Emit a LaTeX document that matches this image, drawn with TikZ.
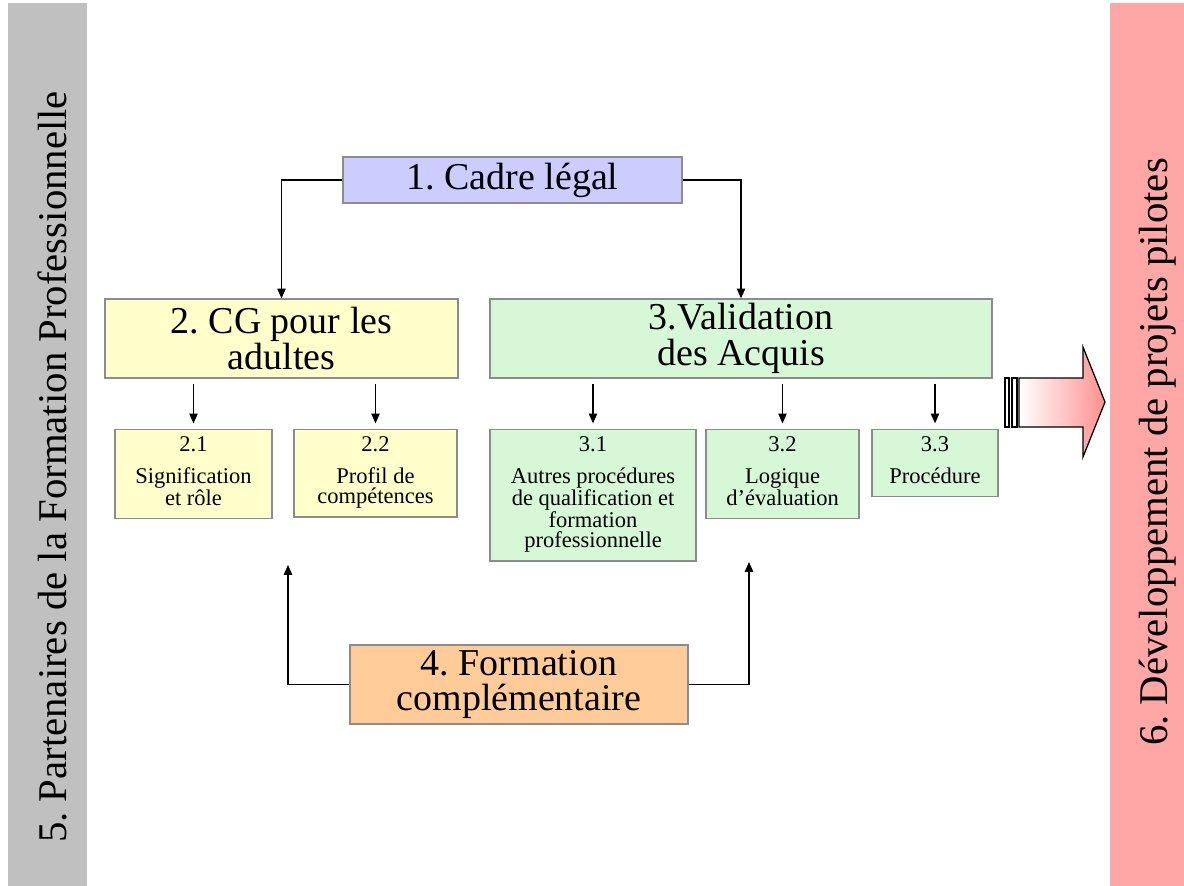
\documentclass[tikz,border=0pt]{standalone}
\usepackage{fontspec}
\setmainfont{Liberation Serif}
\usetikzlibrary{arrows.meta}
\frenchspacing

\definecolor{lavender}{HTML}{CCCCFF}
\definecolor{paleyellow}{HTML}{FFFFCC}
\definecolor{palegreen}{HTML}{D6F8D6}
\definecolor{peach}{HTML}{FFCC99}
\definecolor{bandgray}{HTML}{C0C0C0}
\definecolor{bandpink}{HTML}{FFA6A6}
\definecolor{arrowpink}{HTML}{FF9090}
\definecolor{edgegray}{HTML}{8C8C8C}
\newlength{\unitpx}
\setlength{\unitpx}{0.025cm}

\begin{document}
\begin{tikzpicture}[x=0.025cm, y=-0.025cm,
	bigbox/.style={draw=edgegray, line width=0.9pt, align=center, inner sep=0pt,
		font=\fontsize{27}{25.5}\selectfont},
	smallbox/.style={draw=edgegray, line width=0.9pt, align=center, anchor=north,
		inner xsep=0pt, inner ysep=5.2pt, font=\fontsize{16}{14.4}\selectfont,
		execute at end node=\strut},
	link/.style={line width=0.9pt, -{Triangle[length=7pt,width=6pt]}},
	sidetext/.style={rotate=90, inner sep=0pt, font=\fontsize{29}{34}\selectfont}]
	\useasboundingbox (0,0) rectangle (1184,886);
	
	% side bands
	\fill[bandgray] (8,3) rectangle (87,886);
	\fill[bandpink] (1110,3) rectangle (1184,886);
	\node[sidetext] (partners) at (52,467) {5. Partenaires de la Formation Professionnelle};
	\node[sidetext] (pilots) at (1158,452) {6. Développement de projets pilotes};
	
	% main boxes
	\node[bigbox, fill=lavender, minimum width=339\unitpx, minimum height=46\unitpx] (b1) at (512.5,180) {1. Cadre légal};
	\node[bigbox, fill=paleyellow, minimum width=353\unitpx, minimum height=79\unitpx] (b2) at (281.5,338.5) {2. CG pour les\\adultes};
	\node[bigbox, fill=palegreen, minimum width=502\unitpx, minimum height=79\unitpx] (b3) at (741,338.5) {3.Validation\\des Acquis};
	\node[bigbox, fill=peach, minimum width=338\unitpx, minimum height=79\unitpx] (b4) at (519,684.5) {4. Formation\\complémentaire};
	
	% sub boxes
	\node[smallbox, fill=paleyellow, minimum width=157\unitpx] (b21) at (193.5,429) {2.1\\[8pt]Signification\\et rôle};
	\node[smallbox, fill=paleyellow, minimum width=163\unitpx] (b22) at (375.5,429) {2.2\\[8pt]Profil de\\compétences};
	\node[smallbox, fill=palegreen, minimum width=206\unitpx] (b31) at (593,429) {3.1\\[8pt]Autres procédures\\de qualification et\\formation\\professionnelle};
	\node[smallbox, fill=palegreen, minimum width=153\unitpx] (b32) at (782.5,429) {3.2\\[8pt]Logique\\d’évaluation};
	\node[smallbox, fill=palegreen, minimum width=126\unitpx] (b33) at (935,429) {3.3\\[8pt]Procédure};
	
	% connectors
	\draw[link] (b1.west) -| (b2.north);
	\draw[link] (b1.east) -| (b3.north);
	\foreach \sub in {b21,b22}
		\draw[link, shorten <=3.5pt, shorten >=4pt] (b2.south -| \sub.north) -- (\sub.north);
	\foreach \sub in {b31,b32,b33}
		\draw[link, shorten <=3.5pt, shorten >=4pt] (b3.south -| \sub.north) -- (\sub.north);
	\coordinate (up2) at (288,565);
	\coordinate (up3) at (749,562);
	\draw[link] (b4.west) -| (up2);
	\draw[link] (b4.east) -| (up3);
	
	% big arrow towards 6
	\shadedraw[left color=white, right color=arrowpink, draw=black, line width=0.9pt]
		(1019,378) -- (1083,378) -- (1083,347) -- (1105,402) -- (1083,457) -- (1083,427) -- (1019,427) -- cycle;
	\draw[fill=white, line width=0.9pt] (1005,378) rectangle (1009,427);
	\draw[fill=white, line width=0.9pt] (1012,378) rectangle (1017,427);
\end{tikzpicture}
\end{document}
